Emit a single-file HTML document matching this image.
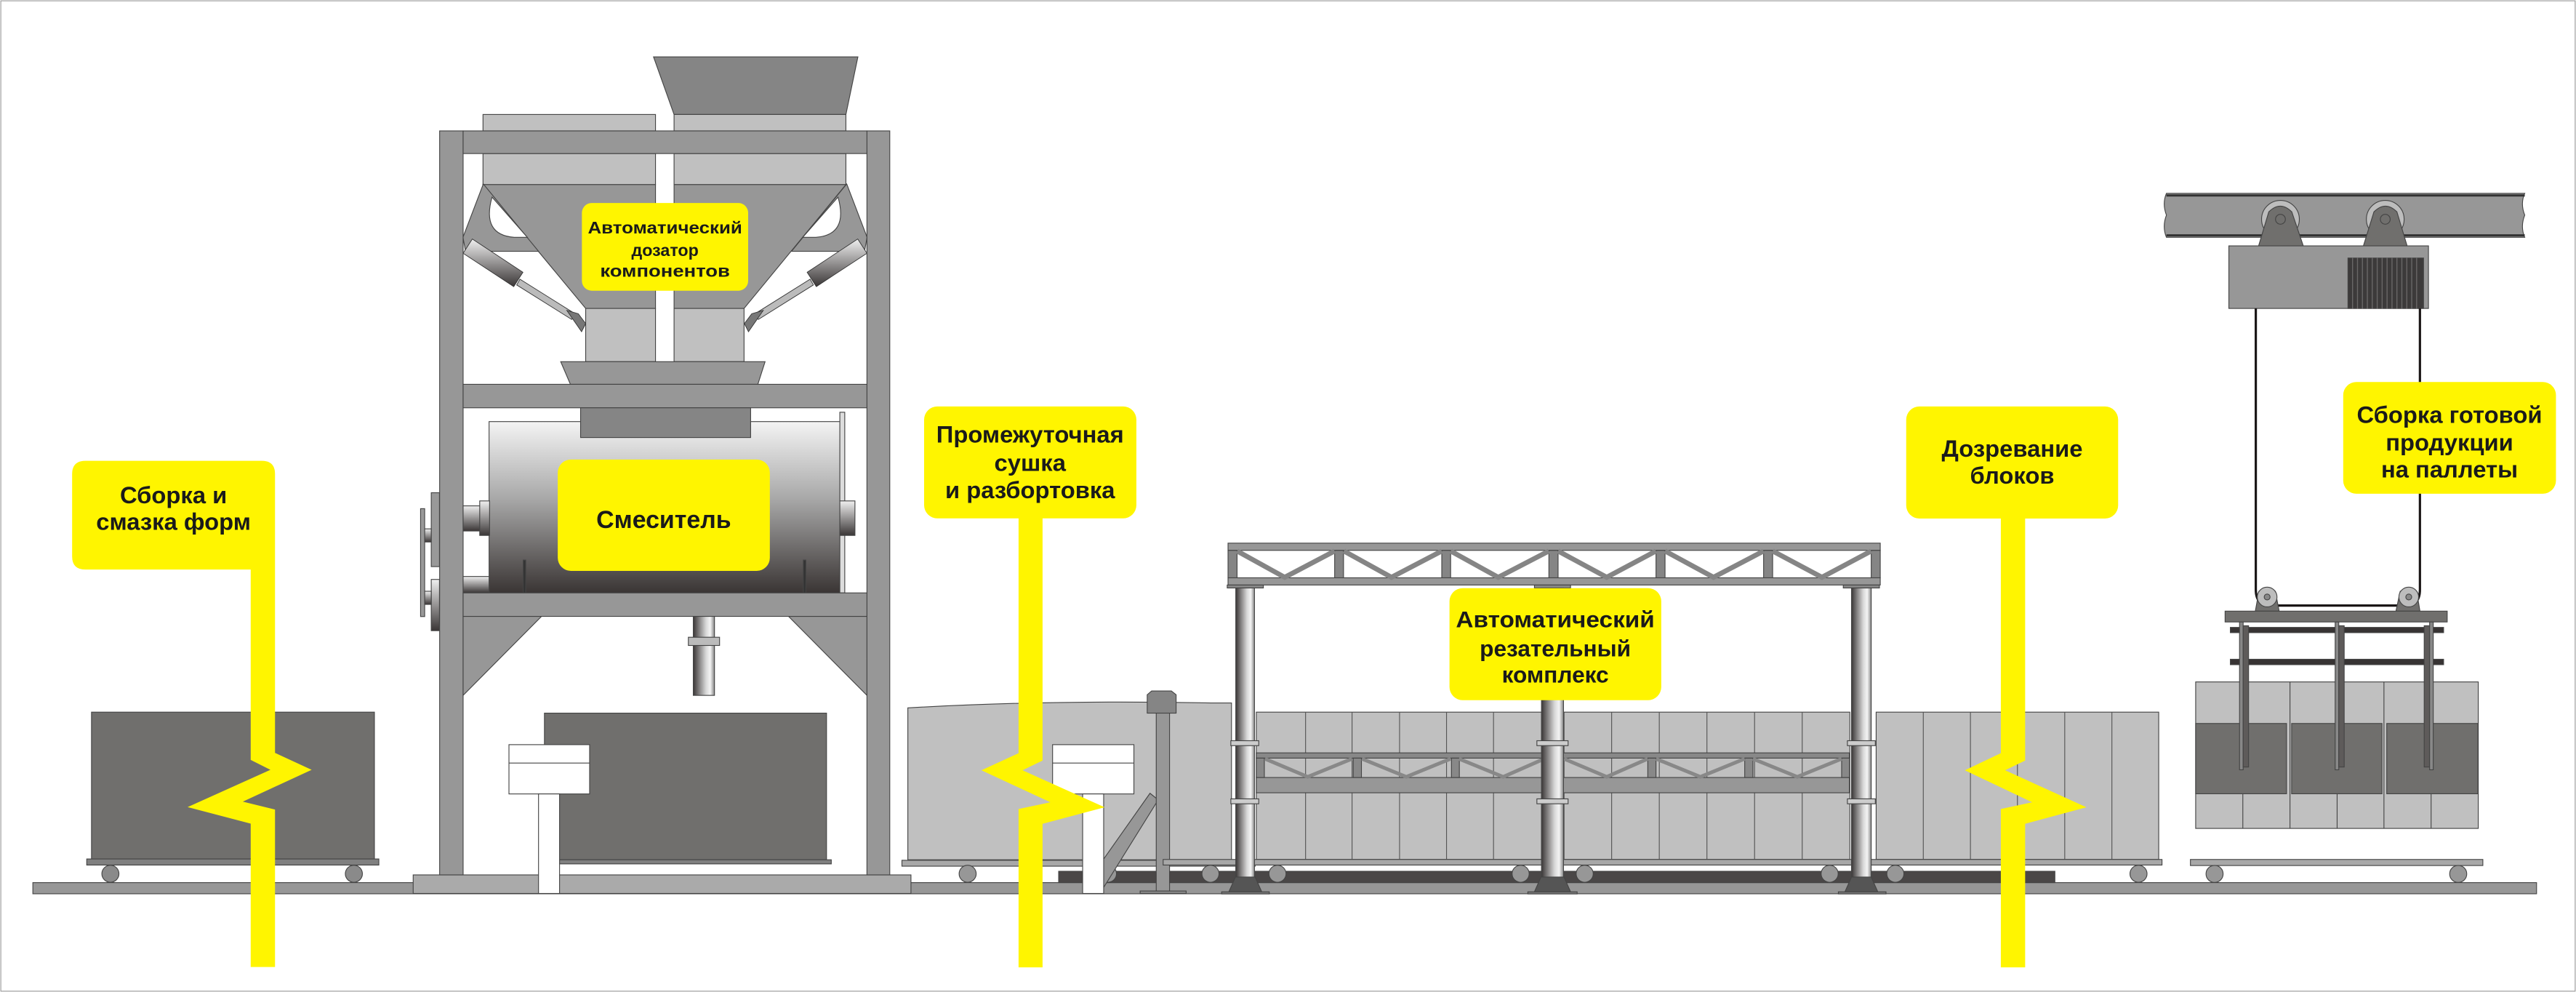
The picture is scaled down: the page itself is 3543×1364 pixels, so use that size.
<!DOCTYPE html>
<html><head><meta charset="utf-8"><style>
html,body{margin:0;padding:0;background:#fff;width:3543px;height:1364px;overflow:hidden}
svg{display:block}
text{font-family:"Liberation Sans",Arial,sans-serif;font-weight:bold;fill:#1a1a1a;text-anchor:middle}
</style></head><body>
<svg width="3543" height="1364" viewBox="0 0 1568 604" preserveAspectRatio="none" xmlns="http://www.w3.org/2000/svg">
<defs>
<linearGradient id="drum" x1="0" y1="0" x2="0" y2="1"><stop offset="0" stop-color="#f4f4f4"/><stop offset="0.45" stop-color="#a8a8a8"/><stop offset="1" stop-color="#3a3534"/></linearGradient>
<linearGradient id="col" x1="0" y1="0" x2="1" y2="0"><stop offset="0" stop-color="#3a3636"/><stop offset="0.6" stop-color="#d8d8d8"/><stop offset="0.8" stop-color="#f4f4f4"/><stop offset="1" stop-color="#888"/></linearGradient>
<linearGradient id="cyl" x1="0" y1="0" x2="0" y2="1"><stop offset="0" stop-color="#f0f0f0"/><stop offset="1" stop-color="#3a3636"/></linearGradient>
</defs>
<g stroke="#444" stroke-width="0.5">
<rect x="0.5" y="0.5" width="1567" height="603" fill="none" stroke="#999"/>
<!-- ground rail -->
<rect x="20" y="537.4" width="1524" height="6.8" fill="#979797"/>
<rect x="644.4" y="530.5" width="606.4" height="6.9" fill="#4a4747"/>
<!-- left cart -->
<rect x="55.7" y="433.6" width="172.2" height="89.4" fill="#706f6d"/>
<rect x="52.8" y="523" width="177.8" height="3.7" fill="#808080"/>
<circle cx="67.2" cy="532" r="5.2" fill="#8a8a8a"/><circle cx="215.4" cy="532" r="5.2" fill="#8a8a8a"/>
<!-- mixer base plate -->
<rect x="251.5" y="532.7" width="303" height="11.3" fill="#aaa"/>
<!-- drive plates left -->
<rect x="256" y="309.7" width="2.5" height="65.7" fill="#999"/>
<rect x="262.5" y="300" width="5" height="45" fill="#999"/>
<rect x="262.5" y="352.8" width="5" height="31.2" fill="url(#cyl)"/>
<rect x="258.5" y="322" width="4" height="8" fill="url(#cyl)"/>
<rect x="258.5" y="360" width="4" height="8" fill="url(#cyl)"/>
<!-- top funnel -->
<polygon points="397.8,34.6 522.2,34.6 514.9,69.7 410.3,69.7" fill="#858585"/>
<rect x="294" y="69.7" width="105" height="10" fill="#c0c0c0"/>
<rect x="410.3" y="69.7" width="104.6" height="10" fill="#c0c0c0"/>
<!-- hopper bodies -->
<rect x="294" y="93.5" width="105" height="18.9" fill="#c0c0c0"/>
<rect x="410.3" y="93.5" width="104.6" height="18.9" fill="#c0c0c0"/>
<polygon points="294,112.4 399,112.4 399,187.8 356.5,187.8" fill="#979797"/>
<polygon points="410.3,112.4 514.9,112.4 452.9,187.8 410.3,187.8" fill="#979797"/>
<rect x="356.5" y="187.8" width="42.5" height="32.4" fill="#c0c0c0"/>
<rect x="410.3" y="187.8" width="42.6" height="32.4" fill="#c0c0c0"/>
<!-- brackets -->
<polygon points="294.2,112 281.8,144.5 283.4,153 327.8,153" fill="#979797"/>
<path d="M299.5,120 Q293,143 313,144.5 L321,144.5 Z" fill="#fff"/>
<polygon points="515.4,112 527.8,144.5 526.2,153 481.8,153" fill="#979797"/>
<path d="M510.1,120 Q516.6,143 496.6,144.5 L488.6,144.5 Z" fill="#fff"/>
<!-- cylinders -->
<g stroke="#333" stroke-width="0.4">
<line x1="285.3" y1="150.4" x2="319" y2="174" stroke="url(#cyl)" stroke-width="0"/>
<polygon points="287.5,145.5 318.3,165.8 312.7,174.5 281.9,154.2" fill="url(#cyl)"/>
<polygon points="316.5,170 350,191 348,194.5 314.5,173.5" fill="#bbb"/>
<polygon points="522.1,145.5 491.3,165.8 496.9,174.5 527.7,154.2" fill="url(#cyl)"/>
<polygon points="493.1,170 459.6,191 461.6,194.5 495.1,173.5" fill="#bbb"/>
<polygon points="345,189 352,191 356.5,197 354,202" fill="#777"/>
<polygon points="464.6,189 457.6,191 453.1,197 455.6,202" fill="#777"/>
</g>
<!-- frame -->
<rect x="267.6" y="79.7" width="14.3" height="453" fill="#979797"/>
<rect x="527.7" y="79.7" width="13.9" height="453" fill="#979797"/>
<rect x="281.9" y="79.7" width="245.8" height="13.8" fill="#979797"/>
<!-- bottom funnel + beam -->
<polygon points="341.3,220.2 465.7,220.2 461.3,234 347.2,234" fill="#979797"/>
<rect x="281.9" y="234" width="245.8" height="14.3" fill="#979797"/>
<!-- drum -->
<rect x="297.7" y="256.7" width="213.5" height="104.3" fill="url(#drum)"/>
<rect x="511.2" y="251" width="3" height="110" fill="#ddd"/>
<rect x="353.4" y="248.3" width="103.5" height="18.1" fill="#858585"/>
<rect x="281.9" y="308" width="15.8" height="15.3" fill="url(#cyl)"/>
<rect x="292" y="305" width="6" height="21" fill="url(#cyl)"/>
<rect x="511.2" y="305" width="9.2" height="21" fill="url(#cyl)"/>
<rect x="281.9" y="351" width="15.8" height="10" fill="url(#cyl)"/>
<rect x="318.5" y="341" width="1.5" height="20" fill="#333"/><rect x="489" y="341" width="1.5" height="20" fill="#333"/>
<rect x="281.9" y="361" width="245.8" height="14.3" fill="#979797"/>
<polygon points="281.9,375.3 329.6,375.3 281.9,423.4" fill="#979797"/>
<polygon points="480,375.3 527.7,375.3 527.7,423.4" fill="#979797"/>
<rect x="422" y="375.3" width="12.9" height="48.1" fill="url(#col)"/>
<rect x="419" y="388" width="19" height="5" fill="#bbb"/>
<!-- mixer dark box -->
<rect x="331.4" y="434.2" width="171.7" height="89.3" fill="#706f6d"/>
<rect x="337" y="523.5" width="169" height="2.5" fill="#808080"/>
<!-- signs -->
<rect x="309.8" y="453.4" width="49.1" height="30" fill="#fff"/><line x1="309.8" y1="464.6" x2="358.9" y2="464.6"/>
<rect x="327.8" y="483.4" width="12.8" height="60.6" fill="#fff"/>
<!-- section 2 container -->
<path d="M552.6,431 Q640,426 737,428 L749.6,428 L749.6,523.5 L552.6,523.5 Z" fill="#c0c0c0"/>
<rect x="549" y="523.8" width="215" height="3.6" fill="#a8a8a8"/>
<circle cx="589" cy="532" r="5.2" fill="#979797"/><circle cx="674.4" cy="532" r="5.2" fill="#979797"/><circle cx="736.8" cy="532" r="5.2" fill="#979797"/><circle cx="777.6" cy="532" r="5.2" fill="#979797"/>
<polygon points="669,527 700,483 705,487 672,540" fill="#979797"/>
<polygon points="698.3,423 701,420.7 713,420.7 715.9,423 715.9,434.2 698.3,434.2" fill="#858585"/>
<rect x="703.8" y="434.2" width="8.1" height="109.8" fill="#979797"/>
<rect x="694" y="542.5" width="28" height="1.5" fill="#888"/>
<rect x="640.7" y="453.4" width="49.5" height="30" fill="#fff"/><line x1="640.7" y1="464.6" x2="690.2" y2="464.6"/>
<rect x="659" y="483.4" width="12.8" height="60.6" fill="#fff"/>
<!-- blocks under gantry -->
<rect x="764.7" y="433.6" width="173.6" height="89.7" fill="#c0c0c0"/>
<rect x="952" y="433.6" width="174" height="89.7" fill="#c0c0c0"/>
<rect x="1142" y="433.6" width="172" height="89.7" fill="#c0c0c0"/>
<g stroke="#555" stroke-width="0.5">
<path d="M794.7,433.6V523.3M823,433.6V523.3M851.9,433.6V523.3M880.5,433.6V523.3M909.1,433.6V523.3
M981,433.6V523.3M1010,433.6V523.3M1039,433.6V523.3M1068,433.6V523.3M1097,433.6V523.3
M1170.7,433.6V523.3M1199.4,433.6V523.3M1228,433.6V523.3M1256.8,433.6V523.3M1285.5,433.6V523.3"/>
</g>
<rect x="708" y="523.3" width="608" height="3.4" fill="#a8a8a8"/>
<circle cx="925.6" cy="532" r="5.2" fill="#979797"/><circle cx="964.6" cy="532" r="5.2" fill="#979797"/><circle cx="1113.7" cy="532" r="5.2" fill="#979797"/><circle cx="1153.7" cy="532" r="5.2" fill="#979797"/><circle cx="1301.7" cy="532" r="5.2" fill="#979797"/>
<!-- lower truss -->
<rect x="764.7" y="458.4" width="361" height="3.2" fill="#888"/>
<rect x="764.7" y="473.4" width="361" height="9.3" fill="#979797"/>
<g fill="#888">
<rect x="764.7" y="461.6" width="4.9" height="11.8"/><rect x="823.7" y="461.6" width="5" height="11.8"/><rect x="883.5" y="461.6" width="4.8" height="11.8"/>
<rect x="1003" y="461.6" width="5" height="11.8"/><rect x="1062" y="461.6" width="5" height="11.8"/><rect x="1121" y="461.6" width="4.8" height="11.8"/>
</g>
<g stroke="#888" stroke-width="2.2" fill="none">
<polyline points="770,462 796,473 823,462"/><polyline points="829,462 856,473 883,462"/><polyline points="888,462 915,473 940,462"/>
<polyline points="952,462 978,473 1003,462"/><polyline points="1008,462 1035,473 1062,462"/><polyline points="1067,462 1094,473 1121,462"/>
</g>
<!-- top truss -->
<rect x="747.5" y="330.7" width="397" height="4.4" fill="#979797"/>
<rect x="747.5" y="351.8" width="397" height="4.4" fill="#979797"/>
<g fill="#858585">
<rect x="747.5" y="335.1" width="5.5" height="16.7"/><rect x="812.4" y="335.1" width="5.4" height="16.7"/><rect x="877.6" y="335.1" width="5.4" height="16.7"/><rect x="942.8" y="335.1" width="5.6" height="16.7"/><rect x="1008" y="335.1" width="5.5" height="16.7"/><rect x="1073.5" y="335.1" width="5.5" height="16.7"/><rect x="1139" y="335.1" width="5.5" height="16.7"/>
</g>
<g stroke="#858585" stroke-width="3" fill="none">
<polyline points="753,335.5 782,351.5 812.4,335.5"/><polyline points="818,335.5 847,351.5 877.6,335.5"/><polyline points="883,335.5 912,351.5 942.8,335.5"/>
<polyline points="948.4,335.5 978,351.5 1008,335.5"/><polyline points="1013.5,335.5 1043,351.5 1073.5,335.5"/><polyline points="1079,335.5 1109,351.5 1139,335.5"/>
</g>
<rect x="747" y="356.2" width="22" height="1.8" fill="#888"/><rect x="934" y="356.2" width="22" height="1.8" fill="#888"/><rect x="1122" y="356.2" width="22" height="1.8" fill="#888"/>
<!-- columns -->
<g>
<rect x="752.2" y="358" width="11.4" height="183" fill="url(#col)"/>
<rect x="938.3" y="358" width="13.4" height="183" fill="url(#col)"/>
<rect x="1127" y="358" width="12" height="183" fill="url(#col)"/>
<rect x="749.2" y="451" width="17" height="3" fill="#ccc"/><rect x="749.2" y="486.4" width="17" height="3" fill="#ccc"/>
<rect x="935.5" y="451" width="19" height="3" fill="#ccc"/><rect x="935.5" y="486.4" width="19" height="3" fill="#ccc"/>
<rect x="1124.5" y="451" width="17" height="3" fill="#ccc"/><rect x="1124.5" y="486.4" width="17" height="3" fill="#ccc"/>
<polygon points="752,534 764,534 768,543 748,543" fill="#555"/>
<polygon points="938,534 952,534 956,543 934,543" fill="#555"/>
<polygon points="1127,534 1139,534 1143,543 1123,543" fill="#555"/>
<rect x="743.6" y="543" width="29" height="1.3" fill="#777"/><rect x="930" y="543" width="30" height="1.3" fill="#777"/><rect x="1119" y="543" width="29" height="1.3" fill="#777"/>
</g>
<!-- right hoist -->
<path d="M1318.7,117.7 L1536.8,117.7 Q1534,124 1536.8,131 Q1534,138 1536.8,144.5 L1318.7,144.5 Q1316,138 1318.7,131 Q1316,124 1318.7,117.7 Z" fill="#979797"/>
<line x1="1318.7" y1="119" x2="1536.8" y2="119" stroke="#333" stroke-width="1.3"/>
<line x1="1318.7" y1="143.3" x2="1536.8" y2="143.3" stroke="#333" stroke-width="1.3"/>
<circle cx="1388.1" cy="133.5" r="11.5" fill="#bdbdbd"/><circle cx="1451.9" cy="133.5" r="11.5" fill="#bdbdbd"/>
<path d="M1374.8,149.7 L1381,129 Q1388,122 1395,129 L1402,149.7 Z" fill="#706f6d"/>
<path d="M1438.6,149.7 L1445,129 Q1452,122 1459,129 L1465.2,149.7 Z" fill="#706f6d"/>
<circle cx="1388.1" cy="133.5" r="3" fill="#706f6d"/><circle cx="1451.9" cy="133.5" r="3" fill="#706f6d"/>
<rect x="1356.7" y="149.7" width="121.5" height="38.1" fill="#979797"/>
<rect x="1429.2" y="157.1" width="46" height="30.7" fill="#3c3a3a"/>
<path d="M1432,157V188M1435,157V188M1438,157V188M1441,157V188M1444,157V188M1447,157V188M1450,157V188M1453,157V188M1456,157V188M1459,157V188M1462,157V188M1465,157V188M1468,157V188M1471,157V188" stroke="#6a6868" stroke-width="0.6"/>
<path d="M1373.1,187.8 V359 Q1373.1,368.7 1382,368.7 H1464 Q1473,368.7 1473,359 V187.8" fill="none" stroke="#1a1616" stroke-width="1.4"/>
<polygon points="1372.8,372.1 1375,360 1385,360 1387.3,372.1" fill="#706f6d"/>
<polygon points="1458.4,372.1 1461,360 1471,360 1473,372.1" fill="#706f6d"/>
<circle cx="1380" cy="363.5" r="6" fill="#bdbdbd" stroke-width="0.5"/><circle cx="1466.2" cy="363.5" r="6" fill="#bdbdbd"/>
<circle cx="1380" cy="363.5" r="1.8" fill="#888"/><circle cx="1466.2" cy="363.5" r="1.8" fill="#888"/>
<rect x="1354.4" y="372.1" width="135.2" height="6.6" fill="#706f6d"/>
<!-- crate -->
<rect x="1336.5" y="415.2" width="172" height="89.2" fill="#c0c0c0"/>
<path d="M1393.9,415.2V504.4M1451.1,415.2V504.4M1365.2,483.3V504.4M1422.6,483.3V504.4M1479.8,483.3V504.4"/>
<rect x="1336.5" y="440.5" width="55.3" height="42.8" fill="#706f6d"/>
<rect x="1394.9" y="440.5" width="55" height="42.8" fill="#706f6d"/>
<rect x="1452.8" y="440.5" width="55.5" height="42.8" fill="#706f6d"/>
<rect x="1357.6" y="382" width="129.8" height="3.2" fill="#373333"/>
<rect x="1357.6" y="401.4" width="129.8" height="3.3" fill="#373333"/>
<g>
<rect x="1363.2" y="378.7" width="2.2" height="90" fill="#888"/><rect x="1365.4" y="381" width="3.3" height="86" fill="#5e5b5a"/>
<rect x="1421.4" y="378.7" width="2.2" height="90" fill="#888"/><rect x="1423.6" y="381" width="3.3" height="86" fill="#5e5b5a"/>
<rect x="1475.6" y="381" width="3.3" height="86" fill="#5e5b5a"/><rect x="1478.9" y="378.7" width="2.2" height="90" fill="#888"/>
</g>
<rect x="1333.3" y="523.3" width="178" height="3.7" fill="#a8a8a8"/>
<circle cx="1348" cy="532.1" r="5.2" fill="#979797"/><circle cx="1496.3" cy="532.1" r="5.2" fill="#979797"/>
</g>
<!-- yellow markers -->
<g fill="#FFF500">
<path d="M52,280.6 H159.4 Q167.4,280.6 167.4,288.6 V458.4 L189.7,468.7 L147.8,488.1 L167.4,492.9 V588.8 H152.6 V501.5 L114.2,491.4 L164.6,468.7 L152.6,462.7 V346.8 H52 Q43.9,346.8 43.9,338.8 V288.6 Q43.9,280.6 52,280.6 Z"/>
<rect x="562.5" y="247.5" width="129.2" height="68.1" rx="8"/>
<path d="M620,315 H634.6 V463.1 L622.4,469 L672.4,491.5 L634.6,501.6 V589 H620 V492.6 L639.4,488.5 L597.4,469 L620,458.6 Z"/>
<rect x="1160.3" y="247.5" width="129" height="68.2" rx="8"/>
<path d="M1217.9,315 H1232.7 V463.1 L1220.5,469 L1270,491.5 L1232.7,501.6 V589 H1217.9 V492.6 L1237,488.5 L1196,469 L1217.9,458.6 Z"/>
<rect x="354.2" y="123.6" width="101.2" height="53.4" rx="6"/>
<rect x="339.5" y="279.8" width="129.1" height="67.8" rx="8"/>
<rect x="882.3" y="358.1" width="128.9" height="68.2" rx="8"/>
<rect x="1426.3" y="232.6" width="129.5" height="68" rx="8"/>
</g>
<!-- labels -->
<text x="105.6" y="306.5" font-size="14.5">Сборка и</text>
<text x="105.6" y="322.6" font-size="14.5">смазка форм</text>
<text x="404.8" y="142.2" font-size="10.3" textLength="94" lengthAdjust="spacingAndGlyphs">Автоматический</text>
<text x="404.8" y="155.9" font-size="10.3">дозатор</text>
<text x="404.8" y="168.6" font-size="10.3" textLength="79" lengthAdjust="spacingAndGlyphs">компонентов</text>
<text x="404" y="321.4" font-size="15">Смеситель</text>
<text x="627" y="269.4" font-size="14.5">Промежуточная</text>
<text x="627" y="286.8" font-size="14.5">сушка</text>
<text x="627" y="303.3" font-size="14.5">и разбортовка</text>
<text x="946.7" y="381.9" font-size="14" textLength="121" lengthAdjust="spacingAndGlyphs">Автоматический</text>
<text x="946.7" y="399.7" font-size="14">резательный</text>
<text x="946.7" y="415.6" font-size="14">комплекс</text>
<text x="1224.8" y="278" font-size="14.5">Дозревание</text>
<text x="1224.8" y="294.5" font-size="14.5">блоков</text>
<text x="1491" y="257.4" font-size="14.5">Сборка готовой</text>
<text x="1491" y="274.3" font-size="14.5">продукции</text>
<text x="1491" y="290.6" font-size="14.5">на паллеты</text>
</svg>
</body></html>
